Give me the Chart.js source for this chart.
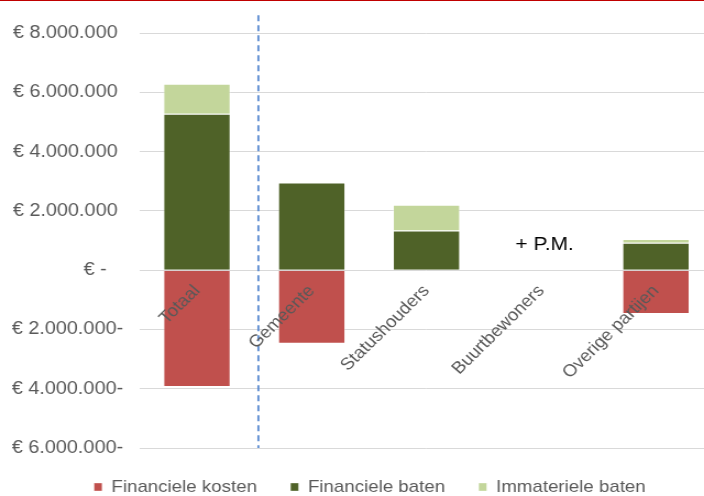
<!DOCTYPE html>
<html><head><meta charset="utf-8">
<script src="https://cdn.jsdelivr.net/npm/chart.js@4/dist/chart.umd.min.js"></script>
<style>
html,body{margin:0;padding:0;background:#fff;overflow:hidden;width:704px;height:496px}
#wrap{position:absolute;left:0;top:0;width:660px;height:496px;transform:scaleX(1.1);transform-origin:0 0}
#topline{position:absolute;left:0;top:0;width:704px;height:1px;background:#c00000}
</style></head>
<body>
<div id="wrap"><canvas id="c" width="660" height="496"></canvas></div>
<div id="topline"></div>
<script>
const categories = ['Totaal', 'Gemeente', 'Statushouders', 'Buurtbewoners', 'Overige partijen'];
const financieleKosten = [-3940000, -2480000, null, null, -1480000];
const financieleBaten = [5280000, 2960000, 1340000, null, 920000];
const immaterieleBaten = [1010000, null, 870000, null, 130000];
const yTickValues = [8000000, 6000000, 4000000, 2000000, 0, -2000000, -4000000, -6000000];
const yTickLabels = ['€ 8.000.000 ', '€ 6.000.000 ', '€ 4.000.000 ', '€ 2.000.000 ', '€ -   ', '€ 2.000.000-', '€ 4.000.000-', '€ 6.000.000-'];
const annotationText = '+ P.M.';
const annotationCategory = 3;
const annotationValue = 860000;
const dividerAt = 0.535;
const dividerTop = 8600000;
const dividerBottom = -6000000;

const FONT = '"Liberation Sans", Arial, sans-serif';

const overlay = {
  id: 'overlay',
  afterLayout(chart) {
    // centre the legend under the full figure like the original
    const lg = chart.legend;
    if (lg) { lg.left += 12; lg.right += 12; }
  },
  beforeDatasetsDraw(chart) {
    const {ctx, scales: {x, y}} = chart;
    ctx.save();
    const dx = x.getPixelForValue(dividerAt);
    ctx.strokeStyle = '#5b8bd0';
    ctx.lineWidth = 1.8;
    ctx.setLineDash([6, 4]);
    ctx.beginPath();
    ctx.moveTo(dx, y.getPixelForValue(dividerTop));
    ctx.lineTo(dx, y.getPixelForValue(dividerBottom));
    ctx.stroke();
    ctx.restore();
  },
  afterDatasetsDraw(chart) {
    const {ctx, scales: {x, y}} = chart;
    ctx.save();
    ctx.fillStyle = '#000';
    ctx.font = '19px ' + FONT;
    ctx.textAlign = 'center';
    ctx.textBaseline = 'middle';
    ctx.fillText(annotationText, x.getPixelForValue(annotationCategory) + 3, y.getPixelForValue(annotationValue));
    ctx.restore();
  }
};

new Chart(document.getElementById('c'), {
  type: 'bar',
  data: {
    labels: categories,
    datasets: [
      {label: 'Financiele kosten', data: financieleKosten, backgroundColor: '#c0504d', borderColor: 'rgba(255,255,255,0.35)', borderWidth: 1},
      {label: 'Financiele baten', data: financieleBaten, backgroundColor: '#4f6228', borderColor: 'rgba(255,255,255,0.35)', borderWidth: 1},
      {label: 'Immateriele baten', data: immaterieleBaten, backgroundColor: '#c3d69b', borderColor: 'rgba(255,255,255,0.35)', borderWidth: 1}
    ]
  },
  options: {
    responsive: false,
    animation: false,
    events: [],
    categoryPercentage: 1,
    barPercentage: 0.588,
    layout: {padding: {top: 33, right: 11.5, bottom: -9.5, left: 0}},
    plugins: {
      tooltip: {enabled: false},
      legend: {
        position: 'bottom',
        labels: {
          boxWidth: 7.3, boxHeight: 8, padding: 30.5,
          color: '#595959', font: {size: 17, family: FONT}
        }
      }
    },
    scales: {
      x: {
        stacked: true,
        position: {y: 0},
        grid: {display: false, drawTicks: false},
        border: {display: false},
        ticks: {z: 1, autoSkip: false, minRotation: 47, maxRotation: 47, color: '#595959', font: {size: 17, family: FONT}, padding: 11}
      },
      y: {
        stacked: true,
        min: -6000000,
        max: 8000000,
        afterFit(s) { s.width = 126.9; },
        grid: {color: '#d9d9d9', lineWidth: 1, drawTicks: false},
        border: {display: false},
        ticks: {
          stepSize: 2000000, padding: 15, color: '#595959', font: {size: 18, family: FONT},
          callback: (v) => { const i = yTickValues.indexOf(v); return i >= 0 ? yTickLabels[i] : ''; }
        }
      }
    }
  },
  plugins: [overlay]
});
</script>
</body></html>
